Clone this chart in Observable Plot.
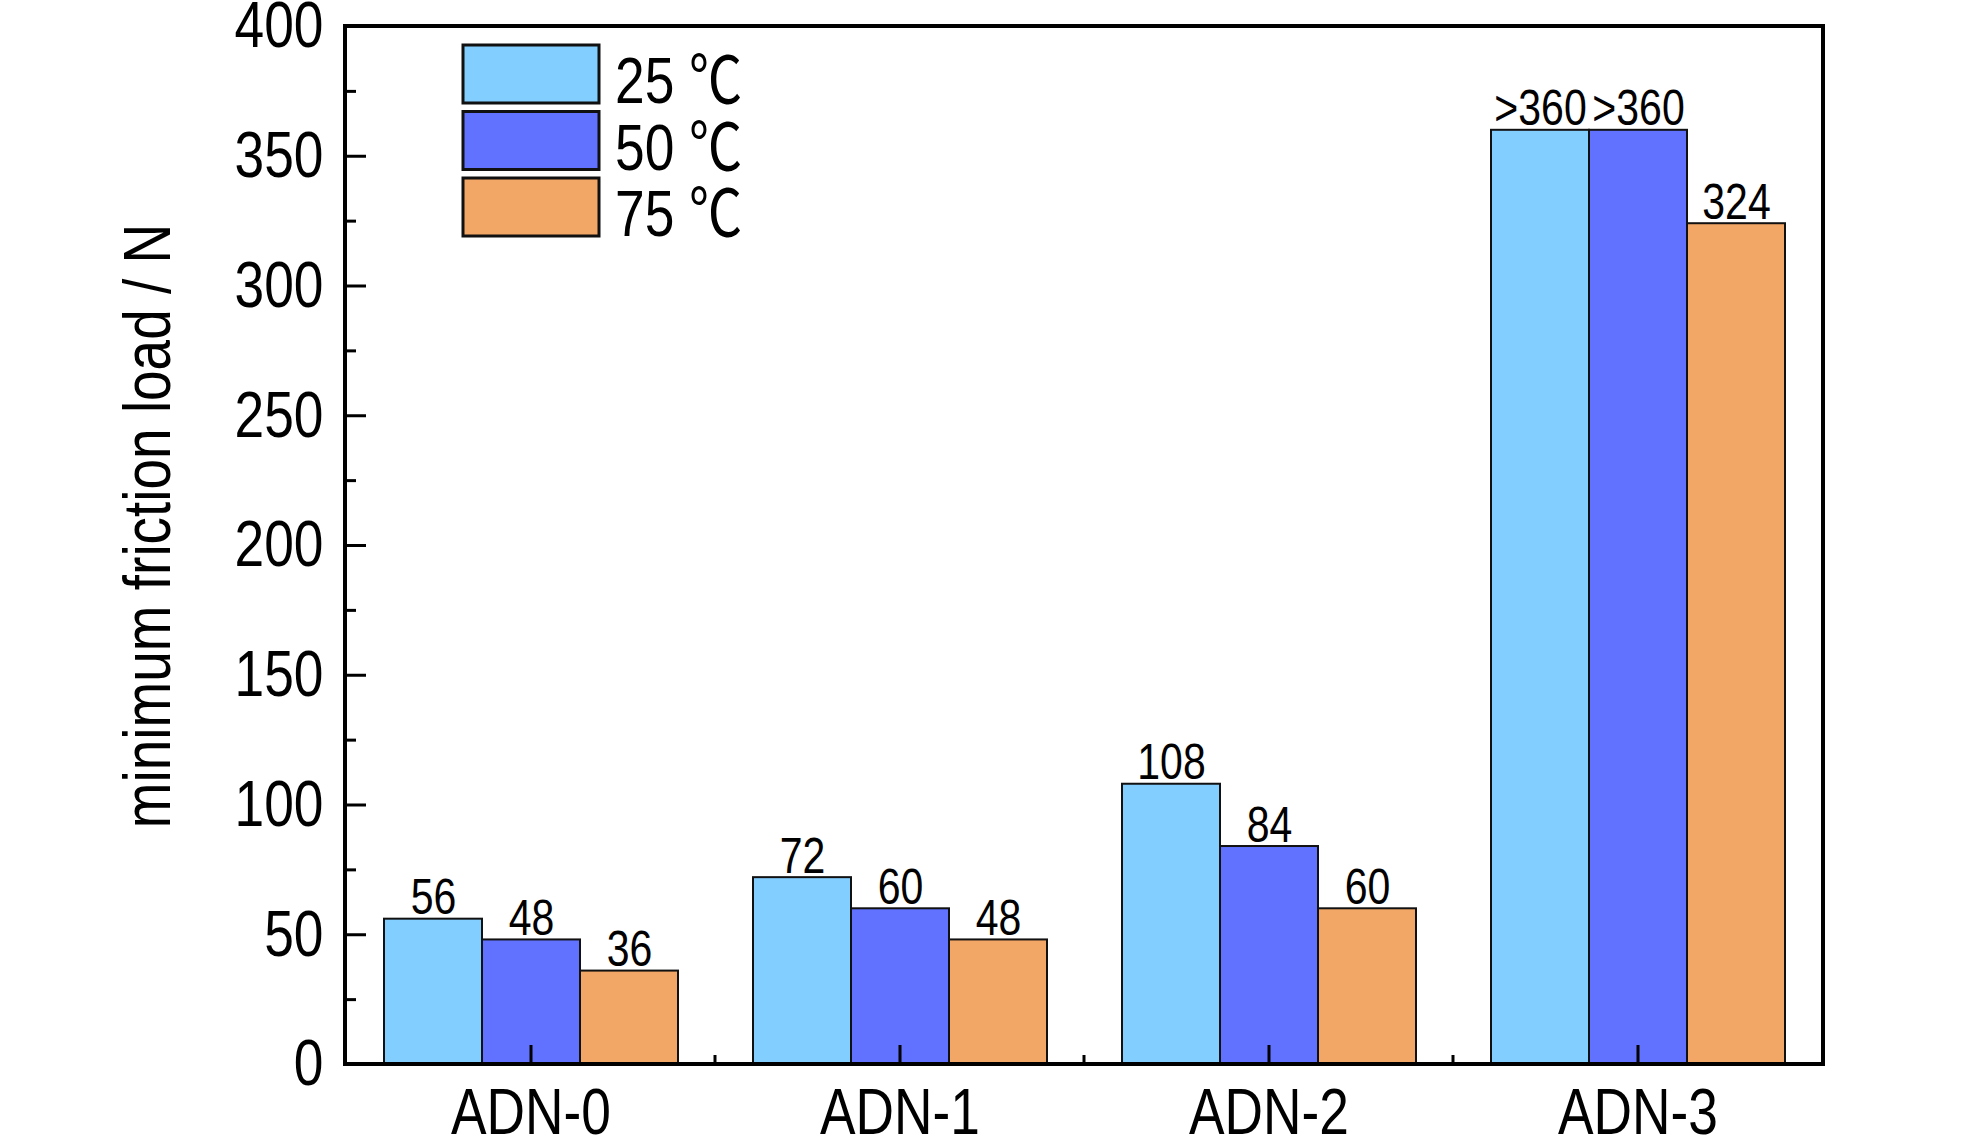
<!DOCTYPE html>
<html><head><meta charset="utf-8">
<script src="https://cdn.jsdelivr.net/npm/d3@7"></script>
<script src="https://cdn.jsdelivr.net/npm/@observablehq/plot@0.6"></script>
<style>
html,body{margin:0;padding:0;background:#fff;overflow:hidden}
</style></head><body><div id="chart"></div>
<script>
// ---- data ----
const groups = ["ADN-0", "ADN-1", "ADN-2", "ADN-3"];
const temps = ["25 ℃", "50 ℃", "75 ℃"];
const values25 = [56, 72, 108, 360];
const values50 = [48, 60, 84, 360];
const values75 = [36, 48, 60, 324];
const labels25 = ["56", "72", "108", ">360"];
const labels50 = ["48", "60", "84", ">360"];
const labels75 = ["36", "48", "60", "324"];
const colors = ["#82CEFF", "#6072FF", "#F3A766"];
const yTicks = [0, 50, 100, 150, 200, 250, 300, 350, 400];
const yMinorTicks = [25, 75, 125, 175, 225, 275, 325, 375];
const yLabel = "minimum friction load / N";

const seriesValues = [values25, values50, values75];
const seriesLabels = [labels25, labels50, labels75];
const data = groups.flatMap((g, i) => temps.map((t, j) => ({
  group: g, temp: t, value: seriesValues[j][i], label: seriesLabels[j][i]
})));

const FONT = "'Liberation Sans', Arial, 'Noto Sans CJK SC', sans-serif";
const NARROW = 0.82;

const plot = Plot.plot({
  width: 1984, height: 1146,
  marginLeft: 345, marginRight: 161, marginTop: 26, marginBottom: 82,
  style: {fontFamily: FONT, background: "white", color: "black"},
  fx: {domain: groups, padding: 0, label: null},
  x: {domain: temps, paddingInner: 0, paddingOuter: 0.375, axis: null},
  y: {domain: [0, 400], label: null},
  color: {domain: temps, range: colors},
  marks: [
    Plot.barY(data, {fx: "group", x: "temp", y: "value", fill: "temp", stroke: "#111", strokeWidth: 2}),
    Plot.text(data, {fx: "group", x: "temp", y: "value", text: "label", dy: -5, lineAnchor: "bottom", fontSize: 50, fill: "black"}),
    Plot.axisY({ticks: yTicks, tickSize: 0, tickPadding: 23, fontSize: 65, label: null}),
    Plot.axisY({ticks: yTicks, tickSize: -20, strokeWidth: 3, tickFormat: () => "", label: null}),
    Plot.axisY({ticks: yMinorTicks, tickSize: -10, strokeWidth: 3, tickFormat: () => "", label: null}),
    Plot.axisFx({anchor: "bottom", tickSize: 0, tickPadding: 23, fontSize: 65, label: null}),
    Plot.axisFx({anchor: "bottom", tickSize: -19, strokeWidth: 3, tickFormat: () => "", label: null})
  ]
});

const svg = d3.select(plot);
const fx = plot.scale("fx");
const y = plot.scale("y");
const x0 = fx.range[0], x1 = fx.range[1];
const yb = y.apply(0), yt = y.apply(400);

// minor x ticks at group boundaries
svg.append("g").selectAll("line").data(groups.slice(1)).join("line")
  .attr("x1", g => fx.apply(g)).attr("x2", g => fx.apply(g))
  .attr("y1", yb).attr("y2", yb - 9)
  .attr("stroke", "black").attr("stroke-width", 3);

// frame
svg.append("rect").attr("x", x0).attr("y", yt).attr("width", x1 - x0).attr("height", yb - yt)
  .attr("fill", "none").attr("stroke", "black").attr("stroke-width", 4);

// legend
const lg = svg.append("g");
temps.forEach((t, i) => {
  lg.append("rect").attr("x", 463).attr("y", 45 + i * 66.5).attr("width", 136).attr("height", 58)
    .attr("fill", colors[i]).attr("stroke", "#111").attr("stroke-width", 3);
  lg.append("text").attr("transform", `translate(615,${103 + i * 66.5})`)
    .attr("text-anchor", "start")
    .attr("font-size", 65).attr("font-family", FONT).attr("fill", "black").text(t);
});

// y label
svg.append("text").attr("transform", `translate(170,526) rotate(-90)`)
  .attr("text-anchor", "middle").attr("font-size", 67).attr("font-family", FONT)
  .attr("fill", "black").text(yLabel);

// narrow font rendering (Arial Narrow look)
plot.querySelectorAll("text").forEach(t => {
  const tr = t.getAttribute("transform") || "";
  t.setAttribute("transform", (tr + ` scale(${NARROW},1)`).trim());
});

document.getElementById("chart").append(plot);
</script></body></html>
